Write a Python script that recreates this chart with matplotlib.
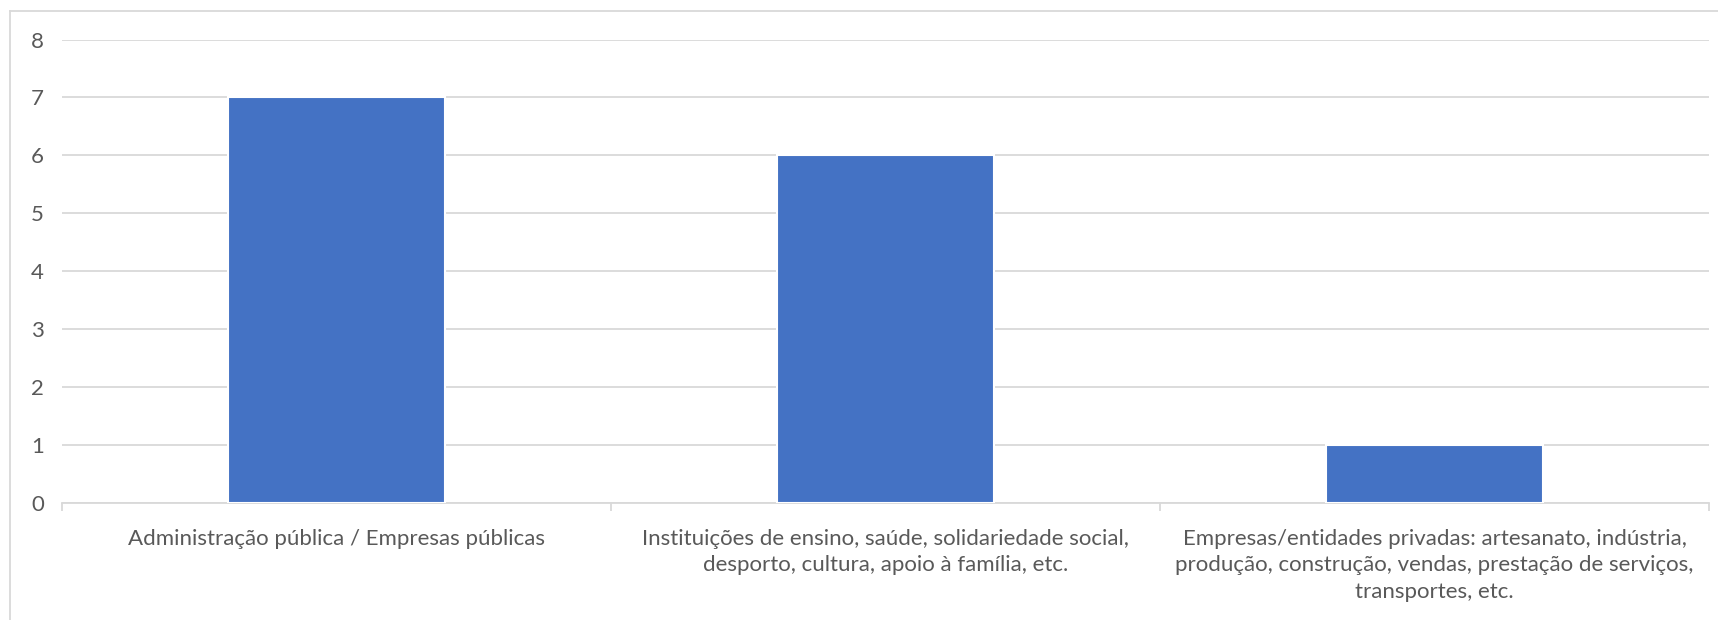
import matplotlib
matplotlib.use("Agg")
import matplotlib.pyplot as plt
from matplotlib.lines import Line2D

categories = [
    "Administração pública / Empresas públicas",
    "Instituições de ensino, saúde, solidariedade social,\ndesporto, cultura, apoio à família, etc.",
    "Empresas/entidades privadas: artesanato, indústria,\nprodução, construção, vendas, prestação de serviços,\ntransportes, etc.",
]
values = [7, 6, 1]
yticks = [0, 1, 2, 3, 4, 5, 6, 7, 8]

plt.rcParams['font.family'] = ['Lato', 'DejaVu Sans']
text_color = "#595959"
grid_color = "#d9d9d9"

fig = plt.figure(figsize=(17.18, 6.2), dpi=100)
ax = fig.add_axes([62 / 1718, 1 - 503 / 620, (1709 - 62) / 1718, (503 - 39.5) / 620])

x = list(range(len(categories)))
ax.bar(x, values, width=0.395, color="#4472c4", edgecolor="white", linewidth=1.5, zorder=3)

ax.set_xlim(-0.5, len(categories) - 0.5)
ax.set_ylim(0, 8)
ax.set_yticks(yticks)
ax.set_yticklabels([str(t) for t in yticks])
ax.yaxis.grid(True, color=grid_color, linewidth=1.3, zorder=0)
ax.set_axisbelow(True)

ax.set_xticks(x)
ax.set_xticklabels(categories, linespacing=1.38)
ax.set_xticks([i - 0.5 for i in range(len(categories) + 1)], minor=True)
ax.tick_params(axis='x', which='major', length=0, pad=19, labelsize=16, labelcolor=text_color)
ax.tick_params(axis='x', which='minor', length=6, width=1.3, color=grid_color, direction='out')
ax.tick_params(axis='y', length=0, pad=13, labelsize=16, labelcolor=text_color)

for s in ["top", "right", "left"]:
    ax.spines[s].set_visible(False)
ax.spines["bottom"].set_color(grid_color)
ax.spines["bottom"].set_linewidth(1.3)

# chart area border
fig.add_artist(Line2D([9.5 / 1718, 9.5 / 1718], [0, 1 - 10.5 / 620], transform=fig.transFigure, color=grid_color, linewidth=1.3))
fig.add_artist(Line2D([9.5 / 1718, 1], [1 - 10.5 / 620, 1 - 10.5 / 620], transform=fig.transFigure, color=grid_color, linewidth=1.3))

fig.savefig("out.png", dpi=100, facecolor="white")
